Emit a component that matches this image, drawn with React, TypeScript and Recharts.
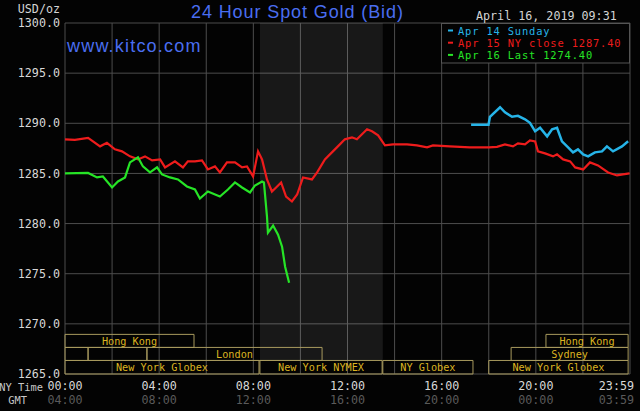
import { LineChart, Line, XAxis, YAxis, CartesianGrid, ReferenceArea } from 'recharts'

// hour of day (NY time), price
const apr14: [number, number][] = [
  [17.25, 1289.85], [17.99, 1289.85], [18.05, 1290.65], [18.48, 1291.6], [18.69, 1291.1],
  [18.99, 1290.65], [19.24, 1290.75], [19.54, 1290.4], [19.75, 1290.05], [19.97, 1289.2],
  [20.18, 1289.55], [20.48, 1288.7], [20.69, 1289.4], [20.9, 1289.55], [21.11, 1288.2],
  [21.37, 1287.6], [21.58, 1287.1], [21.79, 1287.4], [22.01, 1286.9], [22.22, 1286.7],
  [22.51, 1287.1], [22.81, 1287.2], [23.02, 1287.7], [23.28, 1287.2], [23.66, 1287.7],
  [23.92, 1288.2],
]

const apr15: [number, number][] = [
  [0, 1288.4], [0.42, 1288.35], [0.98, 1288.55], [1.49, 1287.7], [1.78, 1288.05],
  [2.12, 1287.4], [2.42, 1287.2], [2.76, 1286.7], [3.1, 1286.4], [3.4, 1286.7],
  [3.7, 1286.3], [4.04, 1286.4], [4.25, 1285.6], [4.67, 1286.2], [5.01, 1285.6],
  [5.22, 1286.2], [5.52, 1286.2], [5.82, 1286.3], [6.07, 1285.4], [6.37, 1285.7],
  [6.58, 1285.1], [6.88, 1286.1], [7.22, 1286.1], [7.52, 1285.6], [7.73, 1285.7],
  [7.99, 1284.7], [8.2, 1287.2], [8.37, 1286.4], [8.58, 1284.4], [8.79, 1283.2],
  [9.01, 1283.7], [9.18, 1284.1], [9.39, 1282.7], [9.64, 1282.2], [9.86, 1282.9],
  [10.11, 1284.6], [10.49, 1284.4], [10.71, 1285.1], [11.04, 1286.4], [11.38, 1287.2],
  [11.55, 1287.6], [11.89, 1288.4], [12.19, 1288.6], [12.4, 1288.4], [12.83, 1289.4],
  [13.04, 1289.2], [13.3, 1288.8], [13.59, 1287.8], [13.93, 1287.9], [14.53, 1287.9],
  [14.95, 1287.8], [15.38, 1287.6], [15.63, 1287.8], [16.35, 1287.7], [17.2, 1287.6],
  [18.01, 1287.6], [18.35, 1287.65], [18.69, 1287.9], [19.03, 1287.7], [19.24, 1288.0],
  [19.54, 1287.9], [19.75, 1288.3], [19.97, 1288.2], [20.09, 1287.2], [20.39, 1287.0],
  [20.73, 1286.7], [20.9, 1286.9], [21.16, 1286.4], [21.46, 1286.2], [21.67, 1285.6],
  [22.01, 1285.4], [22.3, 1286.1], [22.64, 1285.8], [23.07, 1285.1], [23.45, 1284.8],
  [23.7, 1284.9], [23.98, 1285.0],
]

const apr16: [number, number][] = [
  [0, 1285.0], [0.98, 1285.05], [1.36, 1284.6], [1.61, 1284.7], [2.0, 1283.6],
  [2.25, 1284.2], [2.55, 1284.6], [2.76, 1286.1], [3.1, 1286.6], [3.31, 1285.7],
  [3.61, 1285.1], [3.91, 1285.6], [4.12, 1284.9], [4.46, 1284.6], [4.8, 1284.4],
  [5.18, 1283.7], [5.52, 1283.4], [5.73, 1282.5], [6.07, 1283.2], [6.58, 1282.7],
  [6.92, 1283.4], [7.22, 1284.1], [7.52, 1283.6], [7.86, 1283.1], [8.07, 1283.8],
  [8.37, 1284.2], [8.45, 1284.1], [8.58, 1280.7], [8.62, 1279.1], [8.84, 1279.8],
  [9.05, 1278.9], [9.22, 1277.7], [9.35, 1275.7], [9.52, 1274.1],
]

const yTicks = [1265, 1270, 1275, 1280, 1285, 1290, 1295, 1300]
const xTicks = [0, 2, 4, 6, 8, 10, 12, 14, 16, 18, 20, 22, 24]

// trading sessions: row (0 = top), start hour, end hour
const sessions: { name: string; row: number; start: number; end: number }[] = [
  { name: 'Hong Kong', row: 0, start: 0, end: 5.48 },
  { name: '', row: 1, start: 0, end: 0.98 },
  { name: '', row: 1, start: 0.98, end: 3.48 },
  { name: 'London', row: 1, start: 3.48, end: 10.92 },
  { name: 'New York Globex', row: 2, start: 0, end: 8.24 },
  { name: 'New York NYMEX', row: 2, start: 8.28, end: 13.47 },
  { name: 'NY Globex', row: 2, start: 13.5, end: 17.33 },
  { name: 'New York Globex', row: 2, start: 18.0, end: 23.92 },
  { name: 'Sydney', row: 1, start: 18.95, end: 23.92 },
  { name: 'Hong Kong', row: 0, start: 20.43, end: 23.92 },
]
const rowBands = [[1267.65, 1268.95], [1266.35, 1267.65], [1265, 1266.35]]

const nyOpen = [8.28, 13.5]

const legendItems = [
  { text: 'Apr 14 Sunday', color: '#26b4e8' },
  { text: 'Apr 15 NY close 1287.40', color: '#ee1c1c' },
  { text: 'Apr 16 Last 1274.40', color: '#26e426' },
]

const toPts = (a: [number, number][]) => a.map(([h, v]) => ({ h, v }))

const MONO = '"DejaVu Sans Mono", monospace'
const BLUE = '#4a6ef0'

const pad = (n: number) => String(n).padStart(2, '0')

function XTick(props: any) {
  const { x, y, payload } = props
  const h = payload.value
  if (h % 4 !== 0) return <g />
  const last = h === 24
  const ny = last ? '23:59' : `${pad(h)}:00`
  const gmt = last ? '03:59' : `${pad((h + 4) % 24)}:00`
  const tx = last ? x + 4 : x
  const anchor = last ? 'end' : 'middle'
  return (
    <g>
      <text x={tx} y={y + 16} textAnchor={anchor} fill="#d8d8d8" fontSize={11.7} fontFamily={MONO}>
        {ny}
      </text>
      <text x={tx} y={y + 30} textAnchor={anchor} fill="#5a5a5a" fontSize={11.7} fontFamily={MONO}>
        {gmt}
      </text>
    </g>
  )
}

export default function App() {
  return (
    <div style={{ position: 'absolute', left: 0, top: 0, width: 640, height: 411, background: '#030303' }}>
      <LineChart width={640} height={411} margin={{ top: 23, right: 10, bottom: 0, left: 0 }}>
        <CartesianGrid stroke="#4d4d4d" />
        <XAxis
          type="number"
          dataKey="h"
          domain={[0, 24]}
          ticks={xTicks}
          interval={0}
          height={37}
          tickLine={false}
          axisLine={false}
          tickSize={0}
          tickMargin={0}
          tick={<XTick />}
        />
        <YAxis
          type="number"
          domain={[1265, 1300]}
          ticks={yTicks}
          interval={0}
          width={65}
          tickLine={false}
          axisLine={false}
          tickSize={0}
          tickMargin={5}
          tickFormatter={(v: number) => v.toFixed(1)}
          tick={{ fill: '#d8d8d8', fontSize: 11.7, fontFamily: MONO }}
        />
        <ReferenceArea
          x1={nyOpen[0]}
          x2={nyOpen[1]}
          y1={1266.35}
          y2={1300}
          fill="#ffffff"
          fillOpacity={0.085}
          stroke="none"
        />
        {sessions.map((s, i) => (
          <ReferenceArea
            key={i}
            x1={s.start}
            x2={s.end}
            y1={rowBands[s.row][0]}
            y2={rowBands[s.row][1]}
            fill="none"
            stroke="#a89a5e"
            strokeWidth={1}
            label={
              s.name
                ? { value: s.name, position: 'center', fill: '#dcb421', fontSize: 10.2, fontFamily: MONO }
                : undefined
            }
          />
        ))}
        <Line
          data={toPts(apr15)}
          dataKey="v"
          type="linear"
          stroke={legendItems[1].color}
          strokeWidth={2.2}
          dot={false}
          isAnimationActive={false}
        />
        <Line
          data={toPts(apr14)}
          dataKey="v"
          type="linear"
          stroke={legendItems[0].color}
          strokeWidth={2.5}
          dot={false}
          isAnimationActive={false}
        />
        <Line
          data={toPts(apr16)}
          dataKey="v"
          type="linear"
          stroke={legendItems[2].color}
          strokeWidth={2.2}
          dot={false}
          isAnimationActive={false}
        />
      </LineChart>
      <svg
        width={640}
        height={411}
        style={{ position: 'absolute', left: 0, top: 0, pointerEvents: 'none' }}
      >
        <text x={191} y={17.5} fill={BLUE} fontSize={18} letterSpacing={0.9} fontFamily='"Liberation Sans", Arial, sans-serif'>
          24 Hour Spot Gold (Bid)
        </text>
        <text x={67} y={52} fill={BLUE} fontSize={18} letterSpacing={1.2} fontFamily='"Liberation Sans", Arial, sans-serif'>
          www.kitco.com
        </text>
        <text x={476} y={20} fill="#d4d4d4" fontSize={11.7} fontFamily={MONO}>
          April 16, 2019 09:31
        </text>
        <text x={60} y={13} textAnchor="end" fill="#d4d4d4" fontSize={11.7} fontFamily={MONO}>
          USD/oz
        </text>
        <text x={43} y={391} textAnchor="end" fill="#c8c8c8" fontSize={10.4} fontFamily={MONO}>
          NY Time
        </text>
        <text x={27} y={404} textAnchor="end" fill="#c8c8c8" fontSize={10.4} fontFamily={MONO}>
          GMT
        </text>
        <rect x={441.5} y={23.5} width={188} height={39.5} fill="#030303" stroke="#555" />
        {legendItems.map((it, i) => (
          <g key={it.text}>
            <rect x={448} y={29.5 + i * 12.2} width={5} height={2} fill={it.color} />
            <text
              x={458}
              y={34.5 + i * 12.2}
              fill={it.color}
              fontSize={10.4}
              letterSpacing={0.85}
              fontFamily={MONO}
            >
              {it.text}
            </text>
          </g>
        ))}
      </svg>
    </div>
  )
}
